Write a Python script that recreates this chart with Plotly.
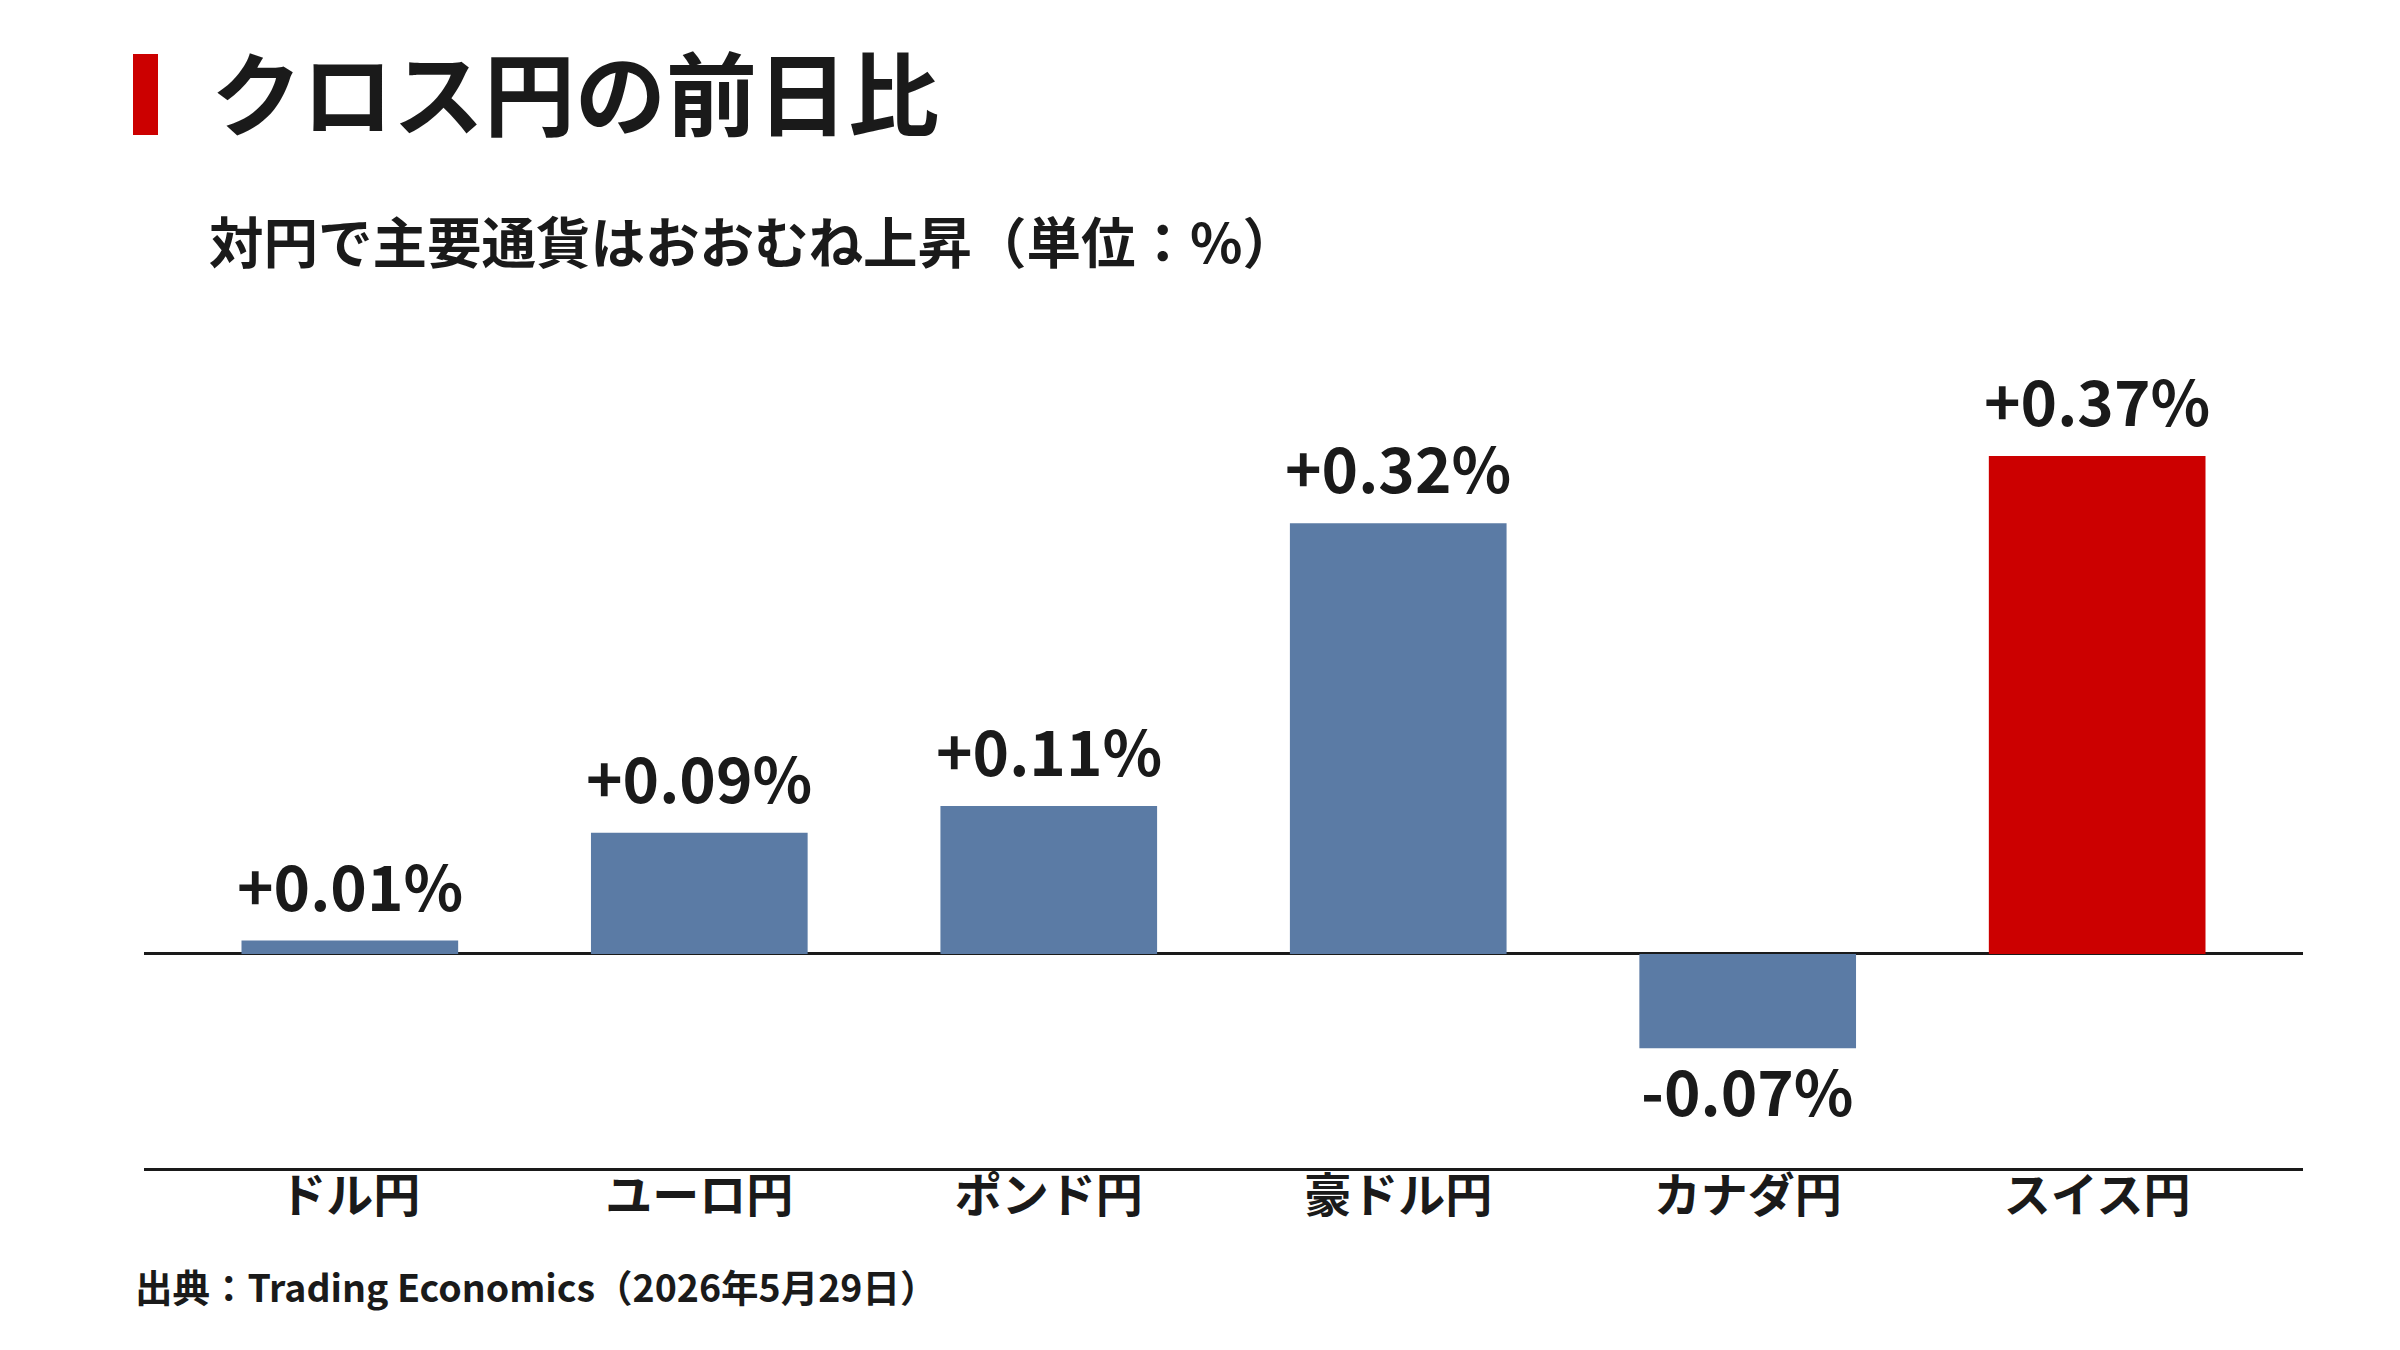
import plotly.graph_objects as go

categories = ["ドル円", "ユーロ円", "ポンド円", "豪ドル円", "カナダ円", "スイス円"]
values = [0.01, 0.09, 0.11, 0.32, -0.07, 0.37]
value_labels = ["+0.01%", "+0.09%", "+0.11%", "+0.32%", "-0.07%", "+0.37%"]
highlight = "スイス円"

title_text = "クロス円の前日比"
subtitle_text = "対円で主要通貨はおおむね上昇（単位：%）"
source_text = "出典：Trading Economics（2026年5月29日）"

BLUE = "#5B7BA5"
RED = "#CC0000"
INK = "#1A1A1A"
FONT = "Noto Sans CJK JP"

W, H = 2400, 1350
L, R, T, B = 144, 97, 300, 182
pw, ph = W - L - R, H - T - B


def px(x):
    return (x - L) / pw


def py(y):
    return (H - B - y) / ph


colors = [RED if c == highlight else BLUE for c in categories]

fig = go.Figure()
fig.add_trace(go.Bar(
    x=categories, y=values, marker=dict(color=colors, line=dict(width=0)),
    width=0.62, hoverinfo="skip",
))

for c, v, t in zip(categories, values, value_labels):
    fig.add_annotation(
        x=c, y=v, xref="x", yref="y", text=t, showarrow=False,
        yanchor="bottom" if v >= 0 else "top",
        yshift=10 if v >= 0 else 6,
        font=dict(family=FONT, size=62, color=INK, weight="bold"),
    )

fig.add_annotation(x=px(209), y=py(89), xref="paper", yref="paper", text=title_text,
                   showarrow=False, xanchor="left", yanchor="middle",
                   font=dict(family=FONT, size=91, color=INK, weight="bold"))
fig.add_annotation(x=px(207), y=py(240), xref="paper", yref="paper", text=subtitle_text,
                   showarrow=False, xanchor="left", yanchor="middle",
                   font=dict(family=FONT, size=54.5, color=INK, weight="bold"))
fig.add_annotation(x=px(133), y=py(1285), xref="paper", yref="paper", text=source_text,
                   showarrow=False, xanchor="left", yanchor="middle",
                   font=dict(family=FONT, size=37.5, color=INK, weight="bold"))

fig.add_shape(type="rect", xref="paper", yref="paper",
              x0=px(133), x1=px(158), y0=py(135), y1=py(54),
              fillcolor=RED, line=dict(width=0))

fig.update_layout(
    width=W, height=H,
    margin=dict(l=L, r=R, t=T, b=B, autoexpand=False),
    paper_bgcolor="white", plot_bgcolor="white",
    showlegend=False,
    xaxis=dict(range=[-0.589, 5.589], showline=True, linecolor=INK, linewidth=3,
               ticks="", showgrid=False, zeroline=False, ticklabelstandoff=-15,
               tickfont=dict(family=FONT, size=47, color=INK, weight="bold")),
    yaxis=dict(range=[-0.159, 0.4859], showgrid=False, showticklabels=False,
               zeroline=True, zerolinecolor=INK, zerolinewidth=3, showline=False),
)

fig.write_html("out.html", config={"displayModeBar": False})
